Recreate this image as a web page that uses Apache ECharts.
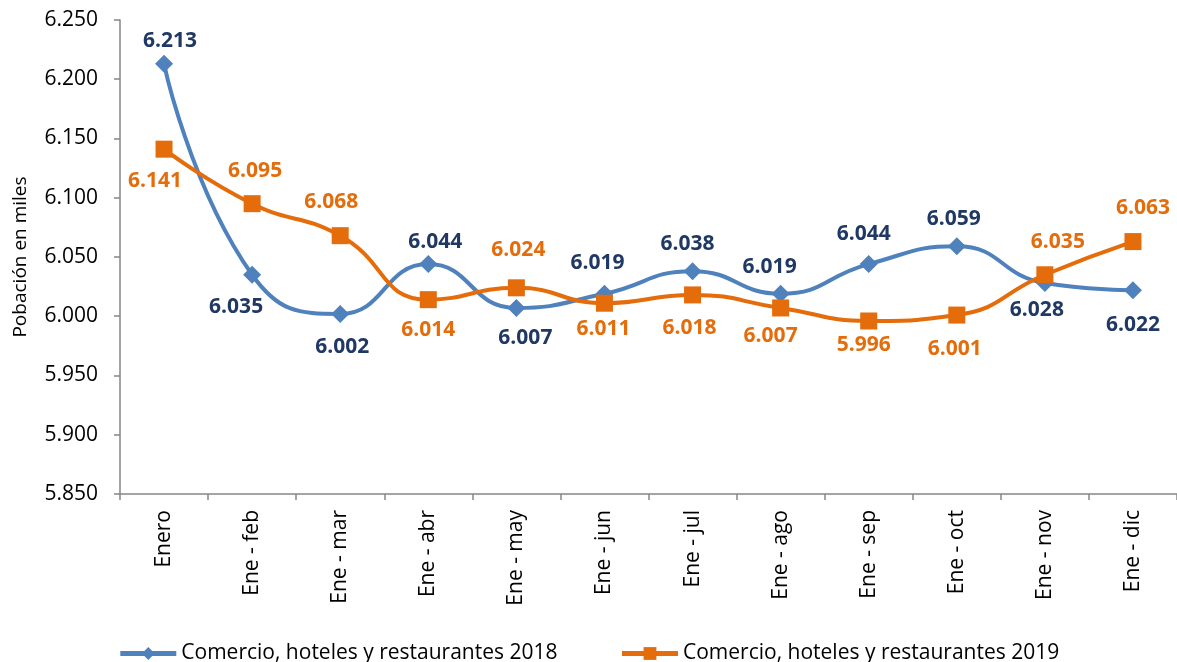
<!DOCTYPE html>
<html>
<head>
<meta charset="utf-8">
<script src="https://cdn.jsdelivr.net/npm/echarts@6/dist/echarts.min.js"></script>
<style>
  html, body { margin: 0; padding: 0; background: #fff; }
  #chart { width: 1177px; height: 662px; }
</style>
</head>
<body>
<div id="chart"></div>
<script>
// categorías y valores (miles de personas)
const categories = ['Enero', 'Ene - feb', 'Ene - mar', 'Ene - abr', 'Ene - may', 'Ene - jun',
  'Ene - jul', 'Ene - ago', 'Ene - sep', 'Ene - oct', 'Ene - nov', 'Ene - dic'];
const values2018 = [6.213, 6.035, 6.002, 6.044, 6.007, 6.019, 6.038, 6.019, 6.044, 6.059, 6.028, 6.022];
const values2019 = [6.141, 6.095, 6.068, 6.014, 6.024, 6.011, 6.018, 6.007, 5.996, 6.001, 6.035, 6.063];
const seriesNames = ['Comercio, hoteles y restaurantes 2018', 'Comercio, hoteles y restaurantes 2019'];

// desplazamiento de las etiquetas de datos respecto al punto [dx, dy]
const labelOffset2018 = [[6, -23], [-16, 32], [2, 33], [7, -22], [9, 30], [-7, -31], [-5, -27], [-11, -27], [-5, -30], [-3, -27], [-8, 27], [0, 35]];
const labelOffset2019 = [[-9, 32], [3, -33], [-9, -34], [0, 30], [2, -38], [-1, 26], [-3, 33], [-10, 28], [-5, 24], [-2, 34], [13, -33], [10, -34]];

const FONT = 'Open Sans';

function buildData (values, offsets) {
  return values.map((v, i) => ({ value: v, label: { position: 'inside', offset: offsets[i] } }));
}

const chart = echarts.init(document.getElementById('chart'));
chart.setOption({
  animation: false,
  textStyle: { fontFamily: FONT },
  grid: { left: 120, right: 0, top: 20, bottom: 168 },
  legend: {
    top: 638,
    left: 'center',
    itemWidth: 56,
    itemHeight: 16,
    itemGap: 62,
    lineStyle: { width: 5 },
    textStyle: { fontFamily: FONT, fontSize: 21, color: '#000' },
    data: seriesNames
  },
  xAxis: {
    type: 'category',
    data: categories,
    boundaryGap: true,
    axisLine: { lineStyle: { color: '#868686', width: 1.5 } },
    axisTick: { show: true, length: 6, alignWithLabel: false, lineStyle: { color: '#868686', width: 1.5 } },
    axisLabel: { rotate: 90, fontSize: 21, color: '#000', fontFamily: FONT, margin: 16, interval: 0 }
  },
  yAxis: {
    type: 'value',
    min: 5.85,
    max: 6.25,
    interval: 0.05,
    name: 'Pobación en miles',
    nameLocation: 'middle',
    nameGap: 90,
    nameTextStyle: { fontSize: 19, color: '#000', fontFamily: FONT },
    axisLine: { show: true, lineStyle: { color: '#868686', width: 1.5 } },
    axisTick: { show: true, length: 6, lineStyle: { color: '#868686', width: 1.5 } },
    splitLine: { show: false },
    axisLabel: { fontSize: 21, color: '#000', fontFamily: FONT, margin: 22, formatter: v => v.toFixed(3) }
  },
  series: [
    {
      name: seriesNames[0],
      type: 'line',
      smooth: 0.5,
      data: buildData(values2018, labelOffset2018),
      symbol: 'diamond',
      symbolSize: 18,
      lineStyle: { color: '#4F81BD', width: 4 },
      itemStyle: { color: '#4F81BD' },
      label: {
        show: true,
        fontSize: 21,
        fontWeight: 'bold',
        color: '#1F3864',
        fontFamily: FONT,
        formatter: p => p.value.toFixed(3)
      }
    },
    {
      name: seriesNames[1],
      type: 'line',
      smooth: 0.5,
      data: buildData(values2019, labelOffset2019),
      symbol: 'rect',
      symbolSize: 17,
      lineStyle: { color: '#E46C0A', width: 4 },
      itemStyle: { color: '#E46C0A' },
      label: {
        show: true,
        fontSize: 21,
        fontWeight: 'bold',
        color: '#E46C0A',
        fontFamily: FONT,
        formatter: p => p.value.toFixed(3)
      }
    }
  ]
});
</script>
</body>
</html>
